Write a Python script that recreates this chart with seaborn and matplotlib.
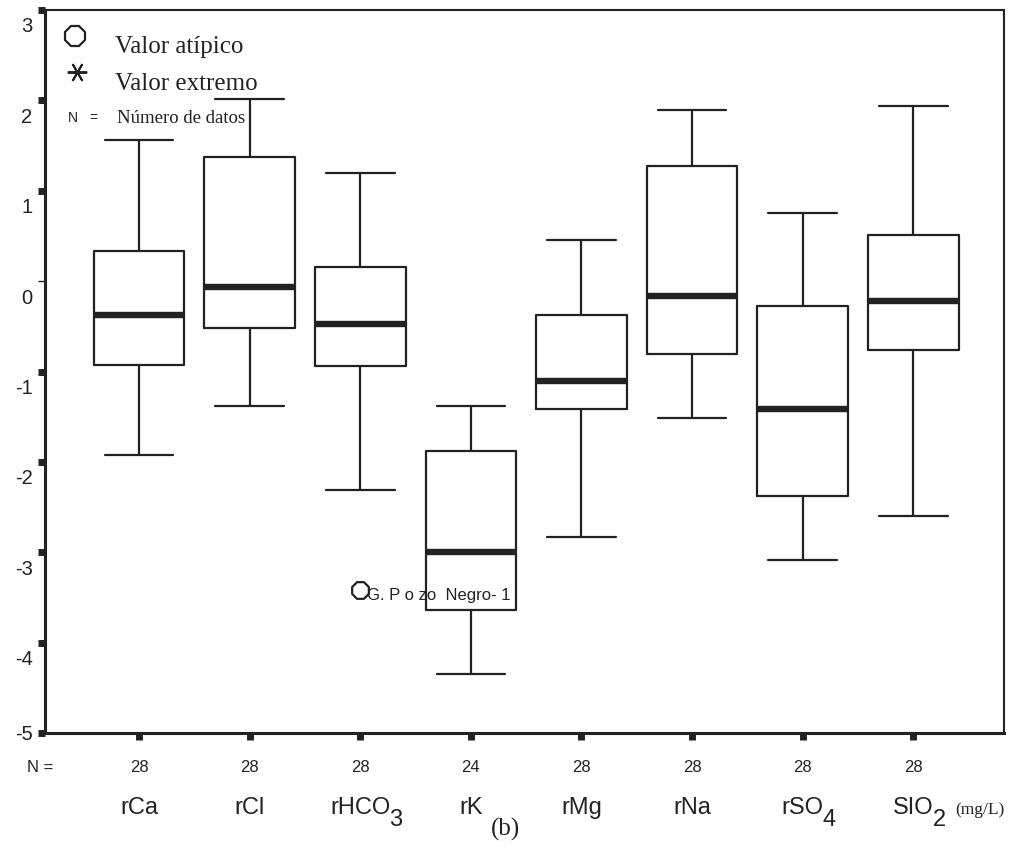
import numpy as np
import pandas as pd
import matplotlib
matplotlib.use("Agg")
import matplotlib.pyplot as plt
import seaborn as sns
from matplotlib.lines import Line2D
from matplotlib.transforms import ScaledTranslation

# ---------------- data ----------------
categories = ["rCa", "rCl", "rHCO3", "rK", "rMg", "rNa", "rSO4", "SIO2"]
label_main = ["rCa", "rCl", "rHCO", "rK", "rMg", "rNa", "rSO", "SIO"]
label_sub = ["", "", "3", "", "", "", "4", "2"]
n_counts = [28, 28, 28, 24, 28, 28, 28, 28]

whisker_low = [-1.92, -1.38, -2.31, -4.35, -2.83, -1.51, -3.09, -2.60]
q1_vals = [-0.93, -0.52, -0.94, -3.64, -1.41, -0.81, -2.38, -0.76]
median_vals = [-0.37, -0.07, -0.47, -3.00, -1.10, -0.16, -1.41, -0.22]
q3_vals = [0.33, 1.37, 0.16, -1.88, -0.37, 1.27, -0.27, 0.51]
whisker_high = [1.56, 2.02, 1.20, -1.38, 0.46, 1.89, 0.75, 1.94]

outlier_cat = ["rHCO3"]
outlier_val = [-3.42]
outlier_label = ["G. P o zo  Negro- 1"]

y_ticks = [-5, -4, -3, -2, -1, 0, 1, 2, 3]
y_tick_labels = ["-5", "-4", "-3", "-2", "-1", "0", "1", "2", "3"]

legend_labels = ["Valor atípico", "Valor extremo"]
n_legend = "Número de datos"

# five-number summaries as long-form table
rows = []
for c, a, b, m, d, e in zip(categories, whisker_low, q1_vals, median_vals,
                            q3_vals, whisker_high):
    for v in (a, b, m, d, e):
        rows.append((c, v))
df = pd.DataFrame(rows, columns=["ion", "z"])

# ---------------- style ----------------
sns.set_style("white")
plt.rcParams["font.family"] = ["Liberation Sans", "DejaVu Sans"]
SERIF = ["Liberation Serif", "DejaVu Serif"]
INK = "#222222"

W, H = 1009, 850
fig = plt.figure(figsize=(W / 100, H / 100), dpi=100)
ax = fig.add_axes([45 / W, 1 - 733 / H, (1004 - 45) / W, (733 - 10) / H])

sns.boxplot(data=df, x="ion", y="z", order=categories, ax=ax,
            width=0.82, whis=(0, 100), fill=False, color=INK,
            linewidth=1.6, showfliers=False, capwidths=0.62,
            medianprops=dict(linewidth=4.6, color=INK),
            boxprops=dict(color=INK), whiskerprops=dict(color=INK),
            capprops=dict(color=INK))

sns.stripplot(x=outlier_cat, y=outlier_val, order=categories, ax=ax,
              jitter=False, marker="8", size=13, color="white",
              edgecolor=INK, linewidth=1.6, zorder=4)

for c, v, t in zip(outlier_cat, outlier_val, outlier_label):
    ax.annotate(t, xy=(categories.index(c), v), xytext=(7, -5),
                textcoords="offset pixels", ha="left", va="center",
                fontsize=12, color=INK, annotation_clip=False)

ax.set_xlim(-0.85, 7.82)
ax.set_ylim(-5, 3)
ax.set_xlabel("")
ax.set_ylabel("")

ax.set_yticks(y_ticks, y_tick_labels)
ax.set_xticks(range(len(categories)), label_main)
ax.tick_params(axis="y", direction="out", length=5, width=5, color=INK,
               labelsize=14.5, pad=4, labelcolor=INK, left=True)
ax.tick_params(axis="x", direction="out", length=5, width=5, color=INK,
               labelsize=17, pad=41, labelcolor=INK, bottom=True)

# thin tick at 0
ax.yaxis.get_major_ticks()[y_ticks.index(0)].tick1line.set_markeredgewidth(1.0)

# tick labels sit a little below their ticks (except -5)
shift = ScaledTranslation(0, -0.15, fig.dpi_scale_trans)
for lbl in ax.get_yticklabels()[1:]:
    lbl.set_transform(lbl.get_transform() + shift)

for side, lw in (("left", 2.2), ("bottom", 2.2), ("top", 1.5), ("right", 1.5)):
    ax.spines[side].set_visible(True)
    ax.spines[side].set_color(INK)
    ax.spines[side].set_linewidth(lw)

# subscripts after ion names
for lbl, sub in zip(ax.get_xticklabels(), label_sub):
    if sub:
        ax.annotate(sub, xy=(1, 0), xycoords=lbl, xytext=(-1, -7),
                    textcoords="offset pixels", ha="left", va="baseline",
                    fontsize=17, color=INK, annotation_clip=False)

# N counts row
for i, n in enumerate(n_counts):
    ax.annotate(str(n), xy=(i, 0), xycoords=("data", "axes fraction"),
                xytext=(0, -34), textcoords="offset pixels", ha="center",
                va="center", fontsize=12, color=INK, annotation_clip=False)
ax.annotate("N =", xy=(0, 0), xycoords="axes fraction", xytext=(-5, -34),
            textcoords="offset pixels", ha="center", va="center",
            fontsize=12, color=INK, annotation_clip=False)

# unit and panel letter
fig.text(955 / W, 1 - 814 / H, "(mg/L)", family=SERIF, fontsize=12.5,
         ha="left", va="baseline", color=INK)
fig.text(506 / W, 1 - 829 / H, "(b)", family=SERIF, fontsize=18,
         ha="center", va="center", color=INK)

# legend box (top-left, no frame)
fig.add_artist(Line2D([75 / W], [1 - 36 / H], transform=fig.transFigure,
                      marker="8", markersize=15, mfc="white", mec=INK,
                      mew=1.6, ls="none"))
fig.add_artist(Line2D([77 / W], [1 - 72 / H], transform=fig.transFigure,
                      marker=(6, 2, 90), markersize=14, mec=INK,
                      mew=1.4, ls="none"))
fig.text(115 / W, 1 - 53 / H, legend_labels[0], family=SERIF, fontsize=18,
         ha="left", va="baseline", color=INK)
fig.text(115 / W, 1 - 90 / H, legend_labels[1], family=SERIF, fontsize=18,
         ha="left", va="baseline", color=INK)
fig.text(68 / W, 1 - 122 / H, "N", fontsize=10, ha="left", va="baseline",
         color=INK)
fig.text(89 / W, 1 - 122 / H, "=", fontsize=10, ha="left", va="baseline",
         color=INK)
fig.text(117 / W, 1 - 123 / H, n_legend, family=SERIF, fontsize=13.5,
         ha="left", va="baseline", color=INK)

fig.savefig("out.png", dpi=100, facecolor="white")
